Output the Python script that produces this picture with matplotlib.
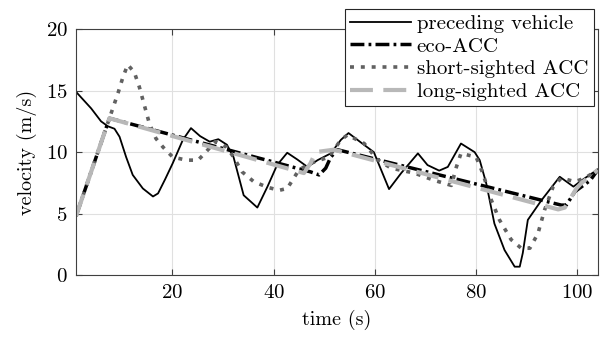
import matplotlib
matplotlib.use('Agg')
import matplotlib.pyplot as plt

plt.rcParams['font.family'] = ['cmr10', 'DejaVu Serif']
plt.rcParams['axes.formatter.use_mathtext'] = True
plt.rcParams['mathtext.fontset'] = 'cm'

# preceding vehicle
t_prec = [1, 4.0, 5.95, 7.3, 8.6, 9.6, 10.9, 12.2, 14.2, 16.2, 17.2, 18.6, 20.1, 22.1,
          23.7, 25.5, 27.4, 29.1, 30.8, 32.1, 34.1, 36.8, 38.8, 40.7, 42.7, 44.7,
          46.7, 48.7, 51.3, 53.3, 54.8, 57.2, 59.8, 61.5, 62.8, 65.2, 68.5, 70.4,
          72.7, 74.4, 77.0, 79.7, 80.7, 82.0, 83.6, 85.6, 87.6, 88.6, 89.2, 90.2,
          92.9, 96.5, 99.2, 100.8, 104]
v_prec = [14.9, 13.55, 12.5, 12.1, 11.9, 11.25, 9.6, 8.15, 7.05, 6.4, 6.65, 7.8, 9.1, 11.0,
          11.95, 11.3, 10.85, 11.05, 10.6, 9.6, 6.5, 5.5, 7.2, 8.95, 9.95, 9.4,
          8.8, 9.35, 9.9, 11.0, 11.55, 10.8, 10.0, 8.3, 7.0, 8.3, 9.9, 8.95,
          8.5, 8.8, 10.7, 10.0, 9.35, 7.45, 4.2, 2.05, 0.7, 0.7, 1.8, 4.5,
          6.1, 8.0, 7.2, 7.7, 8.6]

# eco-ACC
t_eco = [1, 7.6, 47.3, 49.0, 50.3, 51.3, 52.6, 96.8, 97.8, 99.5, 102.5, 104]
v_eco = [4.8, 12.75, 8.4, 8.15, 8.7, 9.6, 10.2, 5.7, 5.7, 6.8, 7.7, 8.55]

# short-sighted ACC
t_short = [1, 7.6, 9.3, 10.2, 11.2, 12.5, 13.5, 14.5, 15.5, 16.8, 18.2, 20.1, 22.8,
           25.1, 26.4, 28.5, 30.8, 32.1, 33.8, 36.1, 38.8, 41.1, 42.7, 43.7, 45.0,
           47.3, 50.9, 53.3, 54.6, 57.9, 60.5, 63.2, 67.8, 71.8, 75.1, 76.1, 77.0,
           80.0, 81.3, 83.0, 84.6, 86.9, 88.9, 90.6, 92.2, 93.5, 95.2, 96.8, 99.5,
           101.5, 104]
v_short = [4.8, 12.75, 14.8, 16.0, 17.1, 16.5, 15.3, 13.8, 12.3, 11.1, 10.4, 9.6, 9.35,
           9.35, 9.9, 10.85, 10.4, 9.6, 8.4, 7.6, 7.15, 6.9, 7.05, 7.7, 8.55,
           9.1, 9.6, 11.0, 11.4, 10.7, 9.4, 8.7, 8.3, 7.7, 7.3, 8.8, 9.9,
           9.6, 8.3, 6.1, 4.5, 2.9, 2.2, 2.2, 3.4, 5.3, 7.2, 7.9, 7.6,
           7.9, 8.55]

# long-sighted ACC
t_long = [1, 7.6, 46.0, 47.3, 48.3, 51.9, 96.2, 97.5, 99.8, 100.8, 104]
v_long = [4.8, 12.75, 8.3, 9.1, 10.0, 10.2, 5.35, 5.5, 7.05, 7.5, 8.55]

fig = plt.figure(figsize=(6.05, 3.45), dpi=100)
ax = fig.add_axes([0.1256, 0.202, 0.8624, 0.714])

ax.plot(t_prec, v_prec, color='black', lw=1.3, label='preceding vehicle')
ax.plot(t_eco, v_eco, color='black', lw=2.5, dashes=[4, 1.2, 0.8, 1.2],
        label='eco-ACC')
ax.plot(t_short, v_short, color='0.38', lw=2.6, dashes=[1.1, 1.9],
        label='short-sighted ACC')
ax.plot(t_long, v_long, color='0.72', lw=3.0, dashes=[5.5, 2.5],
        label='long-sighted ACC')

ax.set_xlim(1, 104)
ax.set_ylim(0, 20)
ax.set_xticks([20, 40, 60, 80, 100])
ax.set_yticks([0, 5, 10, 15, 20])
ax.grid(True, color='0.88', lw=0.8)
ax.set_axisbelow(True)
ax.tick_params(direction='in', top=True, right=True, length=4, width=0.8,
               color='0.25', labelsize=15, pad=6)
for s in ax.spines.values():
    s.set_color('0.25')
    s.set_linewidth(0.8)

ax.set_xlabel('time (s)', fontsize=14.5, labelpad=6)
ax.set_ylabel('velocity (m/s)', fontsize=14.5, labelpad=6)

leg = ax.legend(loc='upper right', bbox_to_anchor=(0.992, 1.081),
                borderaxespad=0, fontsize=15, fancybox=False, framealpha=1,
                edgecolor='0.15', handlelength=2.9, handletextpad=0.3,
                labelspacing=0.2, borderpad=0.25)
leg.get_frame().set_linewidth(0.8)

fig.savefig('out.png', dpi=100)
